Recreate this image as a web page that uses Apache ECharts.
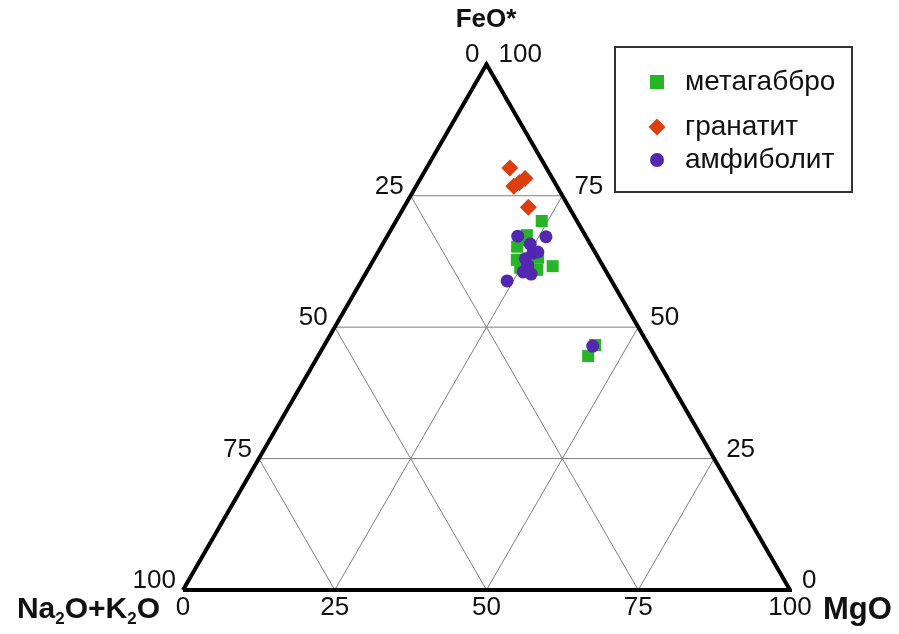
<!DOCTYPE html>
<html>
<head>
<meta charset="utf-8">
<script src="https://cdn.jsdelivr.net/npm/echarts@6/dist/echarts.min.js"></script>
<style>html,body{margin:0;padding:0;background:#fff;}#c{width:899px;height:634px;}</style>
</head>
<body>
<div id="c"></div>
<script>
// Ternary data: [FeO*, Na2O+K2O, MgO]
const metagabbro = [
  [70.2, 5.8, 24.0], [61.6, 8.3, 30.1], [67.5, 9.6, 22.9], [65.3, 12.3, 22.4],
  [62.8, 13.6, 23.6], [61.3, 13.8, 24.9], [60.9, 11.2, 27.9], [63.2, 9.9, 26.9],
  [66.6, 10.5, 22.9], [46.6, 8.8, 44.6], [44.5, 11.0, 44.5]
];
const granatit = [
  [80.3, 6.0, 13.7], [76.8, 7.1, 16.1], [77.5, 5.8, 16.7], [78.3, 4.5, 17.2], [72.8, 6.7, 20.5]
];
const amfibolit = [
  [67.3, 11.2, 21.5], [67.2, 6.6, 26.2], [64.1, 10.3, 25.6], [63.0, 12.1, 24.9],
  [64.3, 9.4, 26.3], [60.5, 13.7, 25.8], [60.1, 12.6, 27.3], [58.8, 17.2, 24.0],
  [61.8, 12.3, 25.9], [46.4, 9.3, 44.3], [65.8, 9.9, 24.3]
];
const seriesNames = ['метагаббро', 'гранатит', 'амфиболит'];
const gridValues = [25, 50, 75];
const tickValues = [0, 25, 50, 75, 100];
const apexNames = { F: 'FeO*', A: 'Na2O+K2O', M: 'MgO' };

const FONT = 'Liberation Sans, Arial, sans-serif';
const S3 = Math.sqrt(3) / 2;
function tern(F, M) { return [M + F / 2, F * S3]; }
function toXY(arr) { return arr.map(d => tern(d[0], d[2])); }

const lineSeries = [];
function seg(p, q, color, width, z) {
  lineSeries.push({
    type: 'line', data: [p, q], symbol: 'none', silent: true, clip: false, z: z,
    lineStyle: { color: color, width: width }, animation: false
  });
}
gridValues.forEach(v => {
  seg(tern(v, 0), tern(v, 100 - v), '#7f7f7f', 1, 1);       // FeO constant
  seg(tern(0, v), tern(100 - v, v), '#7f7f7f', 1, 1);       // MgO constant
  seg(tern(0, 100 - v), tern(100 - v, 0), '#7f7f7f', 1, 1); // Alk constant
});
lineSeries.push({
  type: 'line', data: [tern(0, 0), tern(0, 100), tern(100, 0), tern(0, 0)],
  symbol: 'none', silent: true, clip: false, z: 3, animation: false,
  lineStyle: { color: '#000', width: 4, join: 'miter' }
});

const lblFont = { fontFamily: FONT, fontSize: 26, color: '#111', opacity: 1 };
function labelSeries(points, pos, dist, offset) {
  return {
    type: 'scatter', symbolSize: 0, silent: true, clip: false, z: 5, animation: false,
    itemStyle: { opacity: 1 },
    data: points.map(p => ({ value: p.xy, label: { formatter: String(p.t) } })),
    label: Object.assign({ show: true, position: pos, distance: dist, offset: offset }, lblFont)
  };
}
const leftPts = tickValues.map(a => ({ xy: tern(100 - a, 0), t: a }));       // Na2O+K2O
const rightPts = tickValues.map(f => ({ xy: tern(f, 100 - f), t: f }));      // FeO*
const bottomPts = tickValues.map(m => ({ xy: tern(0, m), t: m }));           // MgO

const legendIcon = [14, 17, 14];
const option = {
  animation: false,
  grid: { left: 183, width: 607, top: 590 - 607 * S3, height: 607 * S3 },
  xAxis: { type: 'value', min: 0, max: 100, show: false },
  yAxis: { type: 'value', min: 0, max: 100 * S3, show: false },
  legend: [0, 1, 2].map((i) => ({
    data: [seriesNames[i]], left: 657 - legendIcon[i] / 2, top: [68, 113, 146][i], orient: 'vertical',
    padding: 0, itemWidth: legendIcon[i], itemHeight: legendIcon[i], selectedMode: false,
    textStyle: { fontFamily: FONT, fontSize: 28, color: '#111', padding: [0, 0, 0, 23 - legendIcon[i] / 2] }
  })),
  graphic: [
    { type: 'rect', shape: { x: 615, y: 47, width: 237, height: 145 }, style: { fill: 'none', stroke: '#333', lineWidth: 2 } },
    { type: 'text', x: 486, y: 20, style: { text: apexNames.F, fontFamily: FONT, fontWeight: 'bold', fontSize: 26, fill: '#111', align: 'center', verticalAlign: 'middle' } },
    { type: 'text', x: 823, y: 610, style: { text: apexNames.M, fontFamily: FONT, fontWeight: 'bold', fontSize: 31, fill: '#111', align: 'left', verticalAlign: 'middle' } },
    { type: 'text', x: 160, y: 610, style: {
        text: '{b|Na}{s|2}{b|O+K}{s|2}{b|O}', align: 'right', verticalAlign: 'middle',
        rich: {
          b: { fontFamily: FONT, fontWeight: 'bold', fontSize: 30, fill: '#111', lineHeight: 34, verticalAlign: 'middle' },
          s: { fontFamily: FONT, fontWeight: 'bold', fontSize: 17, fill: '#111', lineHeight: 36, verticalAlign: 'bottom' }
        } } }
  ],
  series: lineSeries.concat([
    labelSeries(leftPts, 'left', 7, [0, -9]),
    labelSeries(rightPts, 'right', 12, [0, -9]),
    labelSeries(bottomPts, 'bottom', 5, [0, 0]),
    { name: seriesNames[0], type: 'scatter', symbol: 'rect', symbolSize: 12, z: 10, clip: false,
      itemStyle: { color: '#26b526', opacity: 1 }, data: toXY(metagabbro) },
    { name: seriesNames[1], type: 'scatter', symbol: 'diamond', symbolSize: 17, z: 10, clip: false,
      itemStyle: { color: '#dd3e10', opacity: 1 }, data: toXY(granatit) },
    { name: seriesNames[2], type: 'scatter', symbol: 'circle', symbolSize: 13, z: 11, clip: false,
      itemStyle: { color: '#5327b0', opacity: 1 }, data: toXY(amfibolit) }
  ])
};
const chart = echarts.init(document.getElementById('c'), null, { renderer: 'canvas' });
chart.setOption(option);
</script>
</body>
</html>
